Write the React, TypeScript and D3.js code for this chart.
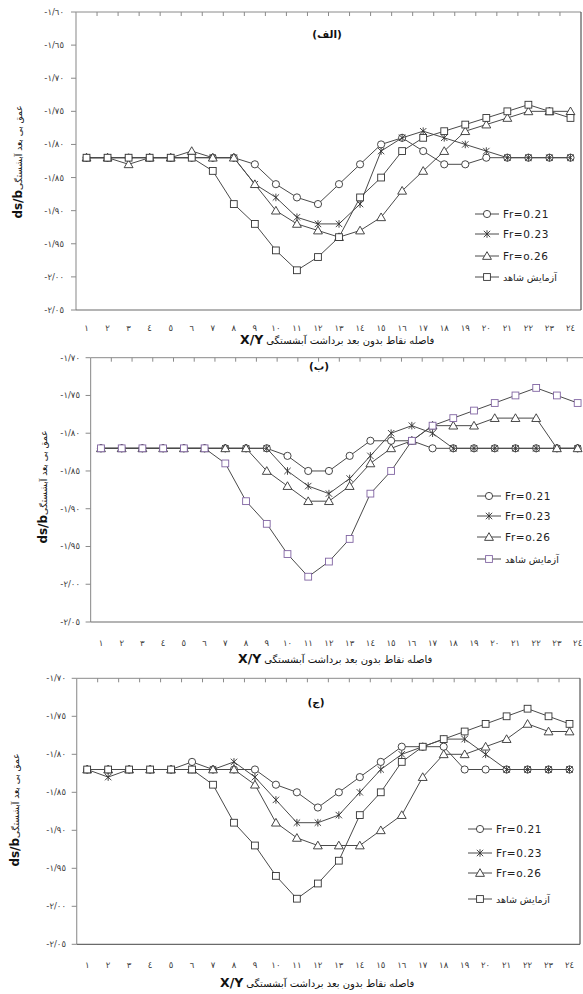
import React from 'react';
import * as d3 from 'd3';

// categories (X/Y points) and y ticks
const categories = [1, 2, 3, 4, 5, 6, 7, 8, 9, 10, 11, 12, 13, 14, 15, 16, 17, 18, 19, 20, 21, 22, 23, 24];
const ticksA = [-1.6, -1.65, -1.7, -1.75, -1.8, -1.85, -1.9, -1.95, -2.0, -2.05];
const ticksBC = [-1.7, -1.75, -1.8, -1.85, -1.9, -1.95, -2.0, -2.05];
const legendLabels = ['Fr=0.21', 'Fr=0.23', 'Fr=o.26', 'آزمایش شاهد'];
const panelNames = ['(الف)', '(ب)', '(ج)'];

// control test (same in every panel)
const control = [-1.82, -1.82, -1.82, -1.82, -1.82, -1.82, -1.84, -1.89, -1.92, -1.96, -1.99, -1.97, -1.94, -1.88, -1.85, -1.81, -1.79, -1.78, -1.77, -1.76, -1.75, -1.74, -1.75, -1.76];

// panel (الف)
const a021 = [-1.82, -1.82, -1.82, -1.82, -1.82, -1.82, -1.82, -1.82, -1.83, -1.86, -1.88, -1.89, -1.86, -1.83, -1.8, -1.79, -1.81, -1.83, -1.83, -1.82, -1.82, -1.82, -1.82, -1.82];
const a023 = [-1.82, -1.82, -1.82, -1.82, -1.82, -1.82, -1.82, -1.82, -1.86, -1.88, -1.91, -1.92, -1.92, -1.89, -1.81, -1.79, -1.78, -1.79, -1.8, -1.81, -1.82, -1.82, -1.82, -1.82];
const a026 = [-1.82, -1.82, -1.83, -1.82, -1.82, -1.81, -1.82, -1.82, -1.86, -1.9, -1.92, -1.93, -1.94, -1.93, -1.91, -1.87, -1.84, -1.81, -1.78, -1.77, -1.76, -1.75, -1.75, -1.75];

// panel (ب)
const b021 = [-1.82, -1.82, -1.82, -1.82, -1.82, -1.82, -1.82, -1.82, -1.82, -1.83, -1.85, -1.85, -1.83, -1.81, -1.81, -1.81, -1.82, -1.82, -1.82, -1.82, -1.82, -1.82, -1.82, -1.82];
const b023 = [-1.82, -1.82, -1.82, -1.82, -1.82, -1.82, -1.82, -1.82, -1.82, -1.85, -1.87, -1.88, -1.86, -1.83, -1.8, -1.79, -1.8, -1.82, -1.82, -1.82, -1.82, -1.82, -1.82, -1.82];
const b026 = [-1.82, -1.82, -1.82, -1.82, -1.82, -1.82, -1.82, -1.82, -1.85, -1.87, -1.89, -1.89, -1.87, -1.84, -1.82, -1.81, -1.79, -1.79, -1.79, -1.78, -1.78, -1.78, -1.82, -1.82];

// panel (ج)
const c021 = [-1.82, -1.82, -1.82, -1.82, -1.82, -1.81, -1.82, -1.82, -1.82, -1.84, -1.85, -1.87, -1.85, -1.83, -1.81, -1.79, -1.79, -1.79, -1.82, -1.82, -1.82, -1.82, -1.82, -1.82];
const c023 = [-1.82, -1.83, -1.82, -1.82, -1.82, -1.82, -1.82, -1.81, -1.83, -1.86, -1.89, -1.89, -1.88, -1.85, -1.82, -1.8, -1.79, -1.78, -1.78, -1.8, -1.82, -1.82, -1.82, -1.82];
const c026 = [-1.82, -1.82, -1.82, -1.82, -1.82, -1.82, -1.82, -1.82, -1.84, -1.89, -1.91, -1.92, -1.92, -1.92, -1.9, -1.88, -1.83, -1.8, -1.8, -1.79, -1.78, -1.76, -1.77, -1.77];

const AR = "'DejaVu Sans', sans-serif";
const LAT = "'DejaVu Sans', sans-serif";
const INK = '#3a3a3a';

const digits = '٠١٢٣٤٥٦٧٨٩';
const ar = (s: string) => s.replace(/\d/g, d => digits[+d]);
const yFmt = (v: number) => '-' + ar(Math.abs(v).toFixed(2).replace('.', '/'));

type Shape = 'circle' | 'star' | 'triangle' | 'square';
const shapes: Shape[] = ['circle', 'star', 'triangle', 'square'];

function Marker({ shape, x, y, color }: { shape: Shape; x: number; y: number; color: string }) {
  if (shape === 'circle') return <circle cx={x} cy={y} r={3.6} fill="#fff" stroke={color} strokeWidth={0.9} />;
  if (shape === 'square') return <rect x={x - 3.4} y={y - 3.4} width={6.8} height={6.8} fill="#fff" stroke={color} strokeWidth={0.9} />;
  if (shape === 'triangle') {
    const tri = d3.symbol(d3.symbolTriangle, 34)();
    return <path d={tri || ''} transform={`translate(${x},${y + 0.8})`} fill="#fff" stroke={color} strokeWidth={0.9} />;
  }
  const s = 3.2;
  return (
    <path
      d={`M${x - s},${y - s}L${x + s},${y + s}M${x - s},${y + s}L${x + s},${y - s}M${x},${y - s - 0.6}L${x},${y + s + 0.6}`}
      stroke={color}
      strokeWidth={0.9}
      fill="none"
    />
  );
}

interface Layout {
  left: number; right: number; top: number; bottom: number;
  ticks: number[];
  yLabelX: number;
  xLabelY: number;
  xTitleY: number; xTitleX: number;
  yTitleX: number; yTitleY: number;
  nameX: number; nameY: number;
  legendX: number; legendRows: number[];
  rightBorder: boolean;
  controlColor: string;
}

function Panel({ lay, series, name }: { lay: Layout; series: number[][]; name: string }) {
  const x = d3.scaleBand<number>().domain(categories).range([lay.left, lay.right]).paddingInner(0).paddingOuter(0);
  const y = d3.scaleLinear().domain([d3.min(lay.ticks)!, d3.max(lay.ticks)!]).range([lay.bottom, lay.top]);
  const cx = (c: number) => (x(c) as number) + x.bandwidth() / 2;
  const line = d3.line<number>().x((_, i) => cx(categories[i])).y(v => y(v));
  const boundaries = d3.range(1, categories.length).map(k => lay.left + k * x.bandwidth());
  const plotRight = Math.min(lay.right, 583);
  return (
    <g>
      {/* frame */}
      <line x1={lay.left} x2={plotRight} y1={lay.top} y2={lay.top} stroke="#8a8a8a" strokeWidth={1} />
      {boundaries.filter(b => b < 583).map(b => (
        <line key={b} x1={b} x2={b} y1={lay.top} y2={lay.top + 4} stroke="#8a8a8a" strokeWidth={1} />
      ))}
      <line x1={lay.left} x2={lay.left} y1={lay.top} y2={lay.bottom} stroke="#9a9a9a" strokeWidth={1.2} />
      <line x1={lay.left} x2={plotRight} y1={lay.bottom} y2={lay.bottom} stroke="#6a6a6a" strokeWidth={1.2} />
      {lay.rightBorder && <line x1={lay.right} x2={lay.right} y1={lay.top} y2={lay.bottom} stroke="#555" strokeWidth={1.2} />}
      {/* y axis */}
      {lay.ticks.map(t => (
        <g key={t}>
          <line x1={lay.left - 5} x2={lay.left} y1={y(t)} y2={y(t)} stroke="#8a8a8a" strokeWidth={1} />
          <text x={lay.yLabelX} y={y(t) + 3} textAnchor="end" fontFamily={AR} fontSize={8.5} letterSpacing={0.9} fill={INK}>{yFmt(t)}</text>
        </g>
      ))}
      {/* x labels */}
      {categories.map(c => (
        <text key={c} x={cx(c)} y={lay.xLabelY} textAnchor="middle" fontFamily={AR} fontSize={8.5} fill={INK}>{ar(String(c))}</text>
      ))}
      <text x={lay.xTitleX} y={lay.xTitleY} fontFamily={AR} fill="#111">
        <tspan fontWeight="bold" fontSize={12.5}>X/Y</tspan>
        <tspan fontSize={10} dx={3}>فاصله نقاط بدون بعد برداشت آبشستگی</tspan>
      </text>
      <text transform={`translate(${lay.yTitleX},${lay.yTitleY}) rotate(-90)`} textAnchor="middle" fontFamily={AR} fill="#111">
        <tspan fontWeight="bold" fontSize={12}>ds/b</tspan>
        <tspan fontSize={9}>عمق بی بعد آبشستگی</tspan>
      </text>
      <text x={lay.nameX} y={lay.nameY} textAnchor="middle" fontFamily={AR} fontWeight="bold" fontSize={10.5} fill="#111">{name}</text>
      {/* series */}
      {series.map((vals, si) => {
        const col = si === 3 ? lay.controlColor : '#333';
        return (
          <g key={si}>
            <path d={line(vals) || ''} fill="none" stroke="#4a4a4a" strokeWidth={1} />
            {vals.map((v, i) => <Marker key={i} shape={shapes[si]} x={cx(categories[i])} y={y(v)} color={col} />)}
          </g>
        );
      })}
      {/* legend */}
      {legendLabels.map((lab, si) => {
        const ry = lay.legendRows[si];
        return (
          <g key={lab}>
            <line x1={lay.legendX} x2={lay.legendX + 24} y1={ry} y2={ry} stroke="#4a4a4a" strokeWidth={1} />
            <Marker shape={shapes[si]} x={lay.legendX + 12} y={ry} color={si === 3 ? lay.controlColor : '#333'} />
            <text x={lay.legendX + 28} y={ry + 3.6} fontFamily={si === 3 ? AR : LAT} fontSize={si === 3 ? 9.5 : 10.5} letterSpacing={si === 3 ? 0.3 : 0.6} fill="#222">{lab}</text>
          </g>
        );
      })}
    </g>
  );
}

const layA: Layout = {
  left: 76, right: 581, top: 12, bottom: 310, ticks: ticksA,
  yLabelX: 64, xLabelY: 331, xTitleY: 344, xTitleX: 240,
  yTitleX: 22, yTitleY: 162, nameX: 327, nameY: 38,
  legendX: 475, legendRows: [214, 234, 256, 277], rightBorder: true, controlColor: '#333',
};
const layB: Layout = {
  left: 90.6, right: 588, top: 357.7, bottom: 622, ticks: ticksBC,
  yLabelX: 80, xLabelY: 646, xTitleY: 663, xTitleX: 238,
  yTitleX: 47, yTitleY: 487, nameX: 319, nameY: 370,
  legendX: 477, legendRows: [496, 516, 537, 559], rightBorder: false, controlColor: '#8064a2',
};
const layC: Layout = {
  left: 76.7, right: 580, top: 678.3, bottom: 944.3, ticks: ticksBC,
  yLabelX: 66, xLabelY: 968, xTitleY: 987, xTitleX: 220,
  yTitleX: 19, yTitleY: 810, nameX: 316, nameY: 706,
  legendX: 468, legendRows: [829, 853, 873, 899], rightBorder: true, controlColor: '#333',
};

export default function App() {
  return (
    <svg width={583} height={994} style={{ position: 'absolute', left: 0, top: 0, background: '#fff' }}>
      <rect width={583} height={994} fill="#fff" />
      <Panel lay={layA} series={[a021, a023, a026, control]} name={panelNames[0]} />
      <Panel lay={layB} series={[b021, b023, b026, control]} name={panelNames[1]} />
      <Panel lay={layC} series={[c021, c023, c026, control]} name={panelNames[2]} />
    </svg>
  );
}
